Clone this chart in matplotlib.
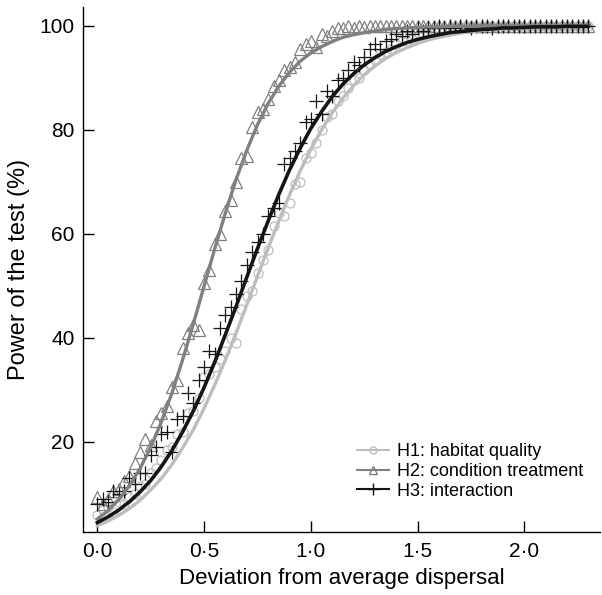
#Power of the test vs deviation from average dispersal
#three hypotheses: simulated points + fitted curves

#imports
import numpy as np
import matplotlib
matplotlib.use('Agg')
import matplotlib.pyplot as plt
from matplotlib.lines import Line2D
from matplotlib.ticker import FuncFormatter

plt.rcParams['font.family'] = ['Liberation Sans', 'DejaVu Sans']

#fitted curves, every 0.05
curve_x = np.round(np.linspace(0, 2.3, 47), 3)
h1_curve = [3.9, 4.8, 5.9, 7.2, 8.8, 10.8, 13.0, 15.7, 18.9, 22.4, 26.5, 31.0, 35.8, 41.0, 46.4, 51.9,
            57.3, 62.5, 67.5, 72.1, 76.3, 80.0, 83.3, 86.1, 88.5, 90.6, 92.3, 93.7, 94.9, 95.8, 96.6,
            97.3, 97.8, 98.2, 98.6, 98.9, 99.1, 99.3, 99.4, 99.5, 99.6, 99.7, 99.8, 99.8, 99.8, 99.9, 99.9]
h2_curve = [5.2, 6.8, 8.9, 11.6, 14.9, 19.0, 23.9, 29.5, 35.9, 42.8, 50.0, 57.2, 64.1, 70.5, 76.1, 81.0,
            85.1, 88.4, 91.1, 93.2, 94.8, 96.0, 97.0, 97.8, 98.3, 98.7, 99.0, 99.3, 99.5, 99.6, 99.7,
            99.8, 99.8, 99.9, 99.9, 99.9, 100, 100, 100, 100, 100, 100, 100, 100, 100, 100, 100]
h3_curve = [4.5, 5.6, 6.9, 8.5, 10.4, 12.6, 15.3, 18.4, 22.0, 26.0, 30.5, 35.4, 40.7, 46.1, 51.7, 57.2,
            62.5, 67.6, 72.3, 76.5, 80.3, 83.5, 86.4, 88.8, 90.8, 92.5, 93.9, 95.1, 96.0, 96.8, 97.4,
            97.9, 98.3, 98.7, 98.9, 99.1, 99.3, 99.4, 99.6, 99.6, 99.7, 99.8, 99.8, 99.8, 99.9, 99.9, 99.9]

#simulated points every 0.025
point_x = np.round(np.linspace(0, 2.3, 93), 3)
h1_points = [6.0, 7.0, 7.5, 6.5, 8.5, 8.0, 9.5, 10.0, 11.5, 12.0, 14.0, 15.0, 16.5, 18.5, 19.0, 21.5,
             22.0, 25.5, 26.0, 28.5, 32.5, 33.0, 34.5, 36.0, 37.5, 40.0, 39.0, 45.5, 48.0, 49.0, 52.5,
             55.0, 57.0, 61.5, 64.0, 63.5, 66.0, 69.5, 70.0, 74.5, 75.5, 77.5, 80.0, 82.5, 83.0, 85.5,
             86.5, 88.0, 89.5, 90.0, 91.5, 92.5, 93.5, 94.5, 95.0, 95.5, 96.5, 97.0, 97.0, 97.5, 98.0,
             98.5, 98.5, 99.0, 99.0, 99.0, 99.5, 99.5, 99.5, 100, 99.5, 100, 99.5, 100, 100, 99.5, 100,
             100, 100, 100, 99.5, 100, 100, 100, 100, 100, 100, 100, 100, 100, 100, 100, 100]
h2_points = [9.5, 8.0, 9.0, 10.5, 11.0, 12.5, 13.5, 16.0, 18.0, 20.5, 19.5, 24.0, 25.5, 27.0, 30.5, 32.0,
             38.0, 41.0, 42.5, 41.5, 50.5, 53.0, 58.0, 60.0, 64.5, 66.5, 70.0, 74.5, 75.0, 80.5, 83.5,
             84.0, 86.0, 88.5, 89.5, 91.5, 92.0, 93.0, 95.5, 96.5, 97.0, 96.0, 98.5, 98.0, 99.0, 99.5,
             99.5, 100, 99.5, 100, 99.8, 100, 100, 100, 100, 100, 100, 100, 100, 100, 100,
             100, 100, 100, 100, 100, 100, 100, 100, 100, 100, 100, 100, 100, 100, 100, 100,
             100, 100, 100, 100, 100, 100, 100, 100, 100, 100, 100, 100, 100, 100, 100, 100]
h3_points = [8.0, 9.0, 8.5, 10.5, 10.0, 10.5, 13.0, 12.0, 14.0, 14.0, 17.5, 19.0, 21.5, 22.0, 18.0, 24.5,
             25.0, 29.5, 27.5, 32.0, 34.5, 37.5, 37.0, 42.0, 44.5, 46.0, 48.5, 51.0, 54.0, 56.5, 58.5,
             60.0, 63.5, 65.0, 66.0, 73.5, 74.5, 76.0, 77.5, 81.5, 82.0, 85.5, 83.0, 87.5, 86.5, 89.5,
             90.0, 91.5, 93.0, 92.5, 94.0, 95.5, 96.5, 95.5, 97.0, 97.5, 98.5, 98.0, 99.0, 98.5, 99.5,
             99.0, 99.5, 99.5, 100, 99.5, 100, 99.5, 100, 100, 99.5, 100, 100, 100, 99.5, 100, 100,
             100, 100, 100, 100, 100, 100, 100, 100, 100, 100, 100, 100, 100, 100, 100, 100]

labels = ['H1: habitat quality', 'H2: condition treatment', 'H3: interaction']
colors = ['#bdbdbd', '#808080', '#151515']

fig = plt.figure(figsize=(6.02, 5.95), dpi=100)
ax = fig.add_axes([0.138, 0.106, 0.859, 0.882])

#points first, curves on top
ax.plot(point_x, h1_points, linestyle='none', marker='o', ms=6.5, mfc='none', mec=colors[0], mew=0.9, zorder=2)
ax.plot(point_x, h2_points, linestyle='none', marker='^', ms=8.5, mfc='none', mec=colors[1], mew=0.9, zorder=2)
ax.plot(point_x, h3_points, linestyle='none', marker='+', ms=10, mec=colors[2], mew=0.9, zorder=2)

ax.plot(curve_x, h1_curve, color=colors[0], lw=2.4, zorder=3)
ax.plot(curve_x, h2_curve, color=colors[1], lw=2.4, zorder=3)
ax.plot(curve_x, h3_curve, color=colors[2], lw=2.6, zorder=4)

ax.set_xlim(-0.067, 2.355)
ax.set_ylim(2.7, 103.6)
ax.set_xticks([0, 0.5, 1.0, 1.5, 2.0])
ax.set_yticks([20, 40, 60, 80, 100])
ax.xaxis.set_major_formatter(FuncFormatter(lambda v, p: ('%.1f' % v).replace('.', '\u00b7')))
ax.tick_params(direction='in', length=8, width=1, labelsize=15)
ax.tick_params(axis='x', pad=7)
ax.tick_params(axis='y', pad=6)
for s in ['top', 'right']:
    ax.spines[s].set_visible(False)
ax.spines['left'].set_linewidth(1)
ax.spines['bottom'].set_linewidth(1)

ax.set_xlabel('Deviation from average dispersal', fontsize=16, labelpad=5)
ax.set_ylabel('Power of the test (%)', fontsize=17, labelpad=7)

#legend: line with small marker
handles = [Line2D([], [], color=colors[0], lw=1.5, marker='o', ms=5, mfc='none', mec=colors[0]),
           Line2D([], [], color=colors[1], lw=1.5, marker='^', ms=6, mfc='none', mec=colors[1]),
           Line2D([], [], color=colors[2], lw=1.5, marker='+', ms=9, mec=colors[2])]
ax.legend(handles, labels, loc='lower left', bbox_to_anchor=(0.512, 0.044), frameon=False, borderpad=0,
          fontsize=13, handlelength=1.8, handletextpad=0.45, labelspacing=0.15)

plt.savefig('out.png', dpi=100)
